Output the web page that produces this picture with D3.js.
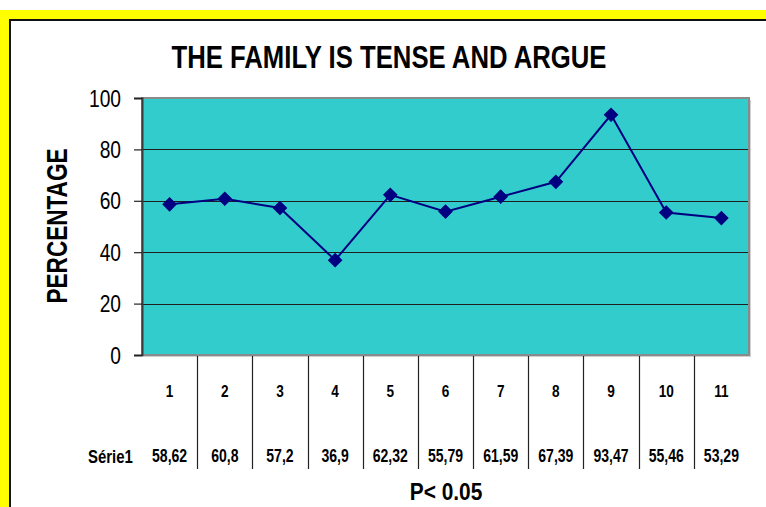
<!DOCTYPE html>
<html>
<head>
<meta charset="utf-8">
<script src="https://cdn.jsdelivr.net/npm/d3@7"></script>
<style>
  html, body { margin: 0; padding: 0; background: #fff; }
  svg { display: block; }
</style>
</head>
<body>
<div id="chart"></div>
<script>
// data
const categories = ["1", "2", "3", "4", "5", "6", "7", "8", "9", "10", "11"];
const serie1 = [58.62, 60.8, 57.2, 36.9, 62.32, 55.79, 61.59, 67.39, 93.47, 55.46, 53.29];
const serie1Labels = ["58,62", "60,8", "57,2", "36,9", "62,32", "55,79", "61,59", "67,39", "93,47", "55,46", "53,29"];
const yTicks = [0, 20, 40, 60, 80, 100];
const seriesName = "Série1";
const title = "THE FAMILY IS TENSE AND ARGUE";
const yTitle = "PERCENTAGE";
const xTitle = "P< 0.05";

const width = 766, height = 507;
const font = "'Liberation Sans', Arial, sans-serif";

const svg = d3.select("#chart").append("svg")
    .attr("width", width)
    .attr("height", height);

// yellow frame
svg.append("rect").attr("x", 0).attr("y", 10).attr("width", 820).attr("height", 560).attr("fill", "#ffff00");
svg.append("rect").attr("x", 9).attr("y", 19).attr("width", 820).attr("height", 560).attr("fill", "#111");
svg.append("rect").attr("x", 11).attr("y", 21).attr("width", 820).attr("height", 560).attr("fill", "#fff");

// plot area
const plot = { left: 142, right: 749, top: 98, bottom: 355 };

const x = d3.scaleBand()
    .domain(categories)
    .range([plot.left, plot.right]);

const y = d3.scaleLinear()
    .domain([0, 100])
    .range([plot.bottom, plot.top]);

// text helper: narrow fonts are squeezed horizontally
function label(g, px, py, str, size, k, anchor, weight) {
    return g.append("text")
        .attr("transform", `translate(${px},${py}) scale(${k},1)`)
        .attr("text-anchor", anchor)
        .attr("font-family", font)
        .attr("font-size", size)
        .attr("font-weight", weight)
        .attr("fill", "#000")
        .text(str);
}

svg.append("rect")
    .attr("x", plot.left + 2).attr("y", plot.top + 2)
    .attr("width", plot.right - plot.left).attr("height", plot.bottom - plot.top)
    .attr("fill", "#d0d0d0");

svg.append("rect")
    .attr("x", plot.left).attr("y", plot.top)
    .attr("width", plot.right - plot.left).attr("height", plot.bottom - plot.top)
    .attr("fill", "#33cccc")
    .attr("stroke", "#8a8a8a")
    .attr("stroke-width", 2);

// gridlines
svg.append("g")
    .selectAll("line")
    .data(yTicks.filter(t => t > 0 && t < 100))
    .join("line")
    .attr("x1", plot.left).attr("x2", plot.right - 1)
    .attr("y1", d => Math.round(y(d)) + 0.5).attr("y2", d => Math.round(y(d)) + 0.5)
    .attr("stroke", "#1e1e1e")
    .attr("stroke-width", 1);

// y axis
const yAxis = svg.append("g")
    .attr("transform", `translate(${plot.left},0)`)
    .call(d3.axisLeft(y).tickValues(yTicks).tickSize(8).tickFormat(""));
yAxis.select(".domain").attr("stroke", "#3a3a3a").attr("stroke-width", 2);
yAxis.selectAll(".tick line").attr("stroke", "#222").attr("stroke-width", 1.2);

yTicks.forEach(t => {
    label(svg, 121, y(t) + 8.5, String(t), 24, 0.8, "end", "normal");
});

// line + markers
const line = d3.line()
    .x((d, i) => x(categories[i]) + x.bandwidth() / 2)
    .y(d => y(d));

svg.append("path")
    .datum(serie1)
    .attr("d", line)
    .attr("fill", "none")
    .attr("stroke", "#000080")
    .attr("stroke-width", 2);

const diamond = d3.symbol().type(d3.symbolSquare).size(88);
svg.append("g")
    .selectAll("path")
    .data(serie1)
    .join("path")
    .attr("d", diamond)
    .attr("transform", (d, i) => `translate(${x(categories[i]) + x.bandwidth() / 2},${y(d)}) rotate(45)`)
    .attr("fill", "#000080")
    .attr("stroke", "#000080")
    .attr("stroke-width", 1);

// data table below the axis
const table = svg.append("g");
table.selectAll("line")
    .data(categories.slice(1))
    .join("line")
    .attr("x1", d => Math.round(x(d)) + 0.5).attr("x2", d => Math.round(x(d)) + 0.5)
    .attr("y1", plot.bottom + 1).attr("y2", 469)
    .attr("stroke", "#222")
    .attr("stroke-width", 1.2);

categories.forEach((c, i) => {
    const cx = x(c) + x.bandwidth() / 2;
    label(table, cx, 397, c, 16, 0.85, "middle", "bold");
    label(table, cx, 462, serie1Labels[i], 18, 0.78, "middle", "bold");
});
label(table, 88, 463, seriesName, 18, 0.83, "start", "bold");

// titles
svg.append("text")
    .attr("x", 389).attr("y", 68)
    .attr("text-anchor", "middle")
    .attr("font-family", font)
    .attr("font-size", 32)
    .attr("font-weight", "bold")
    .attr("textLength", 435)
    .attr("lengthAdjust", "spacingAndGlyphs")
    .text(title);

svg.append("text")
    .attr("transform", "translate(67,226) rotate(-90)")
    .attr("text-anchor", "middle")
    .attr("font-family", font)
    .attr("font-size", 30)
    .attr("font-weight", "bold")
    .attr("textLength", 155)
    .attr("lengthAdjust", "spacingAndGlyphs")
    .text(yTitle);

label(svg, 446, 500, xTitle, 24, 0.87, "middle", "bold");
</script>
</body>
</html>
